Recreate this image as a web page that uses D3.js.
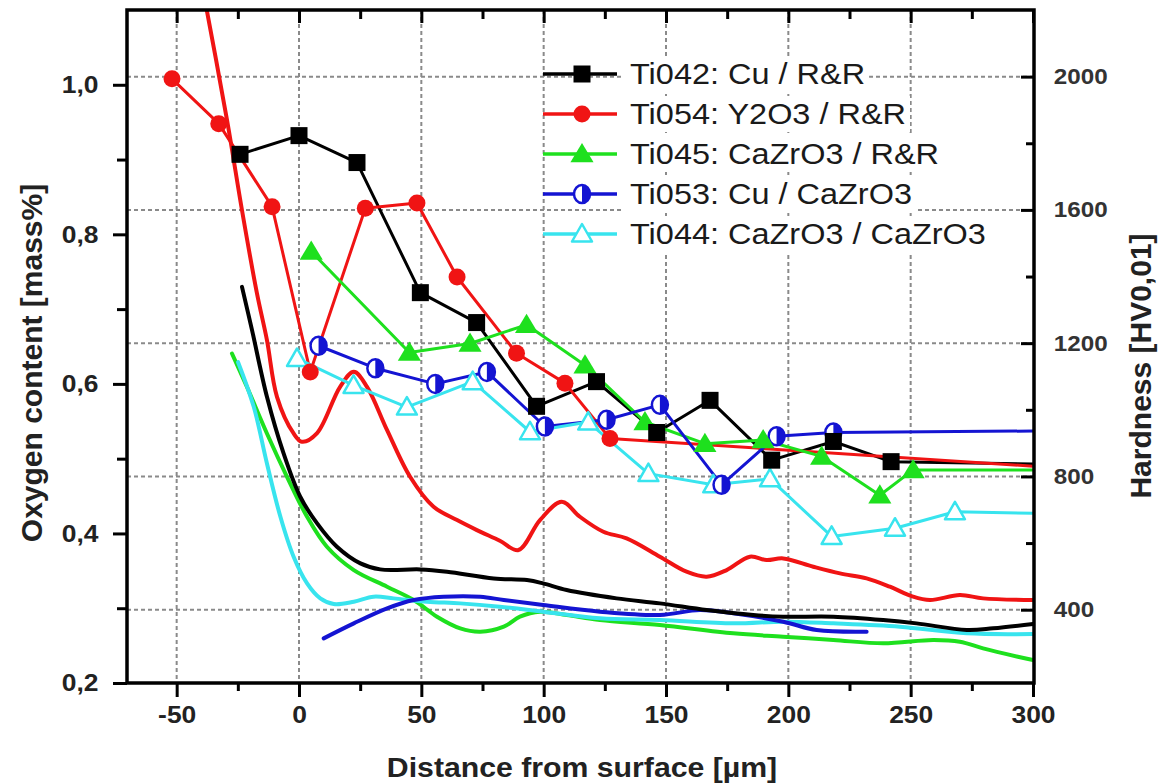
<!DOCTYPE html>
<html>
<head>
<meta charset="utf-8">
<script src="https://cdn.jsdelivr.net/npm/d3@7"></script>
<style>
  html, body { margin: 0; padding: 0; background: #fff; }
  svg { display: block; font-family: "Liberation Sans", Arial, sans-serif; }
</style>
</head>
<body>
<svg id="chart" width="1162" height="783"></svg>
<script>
// ---------------- DATA ----------------
const distanceTicks = [-50, 0, 50, 100, 150, 200, 250, 300];
const distanceMinorTicks = [-25, 25, 75, 125, 175, 225, 275];
const oxygenTicks = [0.2, 0.4, 0.6, 0.8, 1.0];
const oxygenMinorTicks = [0.3, 0.5, 0.7, 0.9];
const hardnessTicks = [400, 800, 1200, 1600, 2000];
const hardnessMinorTicks = [600, 1000, 1400, 1800];

const seriesNames = ["Ti042: Cu / R&R", "Ti054: Y2O3 / R&R", "Ti045: CaZrO3 / R&R", "Ti053: Cu / CaZrO3", "Ti044: CaZrO3 / CaZrO3"];
const seriesColors = ["#000000", "#f01414", "#1ee01e", "#1414d2", "#38e4ee"];

// Oxygen content [mass%] (left axis), measured points [distance, value]
const ti042Oxygen = [[-24.1,0.907],[0,0.932],[23.7,0.896],[49.6,0.722],[72.6,0.682],[97.1,0.570],[121.6,0.603],[146.2,0.535],[168,0.578],[193.2,0.498],[218.4,0.523],[242,0.496]];
const ti054Oxygen = [[-51.9,1.008],[-32.8,0.948],[-11.0,0.837],[4.6,0.616],[27.1,0.835],[48.2,0.842],[64.6,0.743],[88.9,0.641],[108.7,0.601],[127.1,0.527]];
const ti045Oxygen = [[5.0,0.777],[45.1,0.642],[69.9,0.654],[93,0.679],[116.9,0.625],[141.4,0.549],[165.9,0.520],[189.7,0.525],[213.6,0.503],[237.4,0.451],[251,0.485]];
const ti053Oxygen = [[8.0,0.651],[31.2,0.621],[55.7,0.600],[76.8,0.616],[100.5,0.543],[125.7,0.552],[147.5,0.572],[172.7,0.465],[195.2,0.530],[218.4,0.535]];
const ti044Oxygen = [[-0.8,0.634],[22.3,0.598],[44.1,0.569],[71,0.603],[94.4,0.536],[118.2,0.549],[142.8,0.480],[169.3,0.465],[192.5,0.473],[217.7,0.396],[243.6,0.407],[268.1,0.429]];
// bulk level continuation lines (no marker)
const ti042Tail = [[300,0.493]];
const ti054Tail = [[300,0.490]];
const ti045Tail = [[300,0.485]];
const ti053Tail = [[300,0.537]];
const ti044Tail = [[300,0.427]];

// Hardness [HV0,01] (right axis) profiles [distance, value]
const ti042Hardness = [[-23.3,1369],[-19.2,1239],[-13.1,1039],[-6.3,869],[0.5,739],[7.4,659],[15.5,589],[25.1,539],[33.2,521],[49.6,521],[60.5,514],[79.6,494],[93.2,489],[99.8,479],[109.4,459],[129.8,434],[147.5,419],[166.6,399],[185.7,384],[197.9,379],[218.4,379],[238.8,369],[252.4,359],[272.9,339],[283.7,344],[300,357]];
const ti054Hardness = [[-40,2290],[-29.4,1869],[-23.3,1599],[-17.2,1350],[-13.1,1209],[-9.0,1039],[-2.2,929],[1.2,904],[7.4,930],[16.8,1069],[22.4,1114],[27.8,1069],[36.0,939],[45.4,799],[55.0,709],[64.6,669],[72.7,639],[82.1,607],[89.7,579],[98.5,669],[107.4,724],[114.8,679],[124.4,634],[133.9,614],[147.5,559],[158.4,514],[166.6,499],[174.8,519],[184.3,559],[191.1,549],[197.9,554],[210.2,529],[221.1,509],[232,494],[241.5,469],[251,439],[257.9,429],[270.1,444],[279.6,434],[300,429]];
const ti045Hardness = [[-27.4,1169],[-21.3,1069],[-13.1,929],[-4.9,799],[3.3,679],[11.4,589],[22.4,519],[36,469],[46.9,429],[56.4,379],[65.9,344],[74.1,334],[83.7,349],[90.3,379],[98.5,394],[109.4,384],[123,369],[147.5,354],[177.5,329],[197.9,319],[218.4,309],[238.8,299],[259.2,309],[270.1,304],[279.6,284],[293.8,259],[300,249]];
const ti053Hardness = [[10.1,314],[22.4,359],[36,404],[46.9,429],[59.1,439],[74.1,439],[83.7,429],[99.8,414],[123,394],[147.5,384],[163.9,399],[177.5,389],[197.9,364],[211.6,339],[232,334]];
const ti044Hardness = [[-24.9,1143],[-18.5,1009],[-13.1,839],[-7.6,679],[-2.2,559],[3.3,479],[8.7,434],[14.2,417],[22.4,424],[30.5,439],[38.7,434],[52.3,424],[65.9,419],[82.1,409],[99.8,394],[123,374],[147.5,369],[177.5,359],[197.9,364],[218.4,359],[245.6,349],[272.9,329],[300,327]];

// ---------------- LAYOUT ----------------
const L = 127, R = 1034, T = 10, B = 683;
const svg = d3.select("#chart");

const x = d3.scaleLinear().domain([-70.3, 300]).range([L, R - 1]);
const yL = d3.scaleLinear().domain([0.2, 1.1]).range([B, T]);
const yR = d3.scaleLinear().domain([180, 2200]).range([B, T]);

// gridlines
const grid = svg.append("g").attr("stroke", "#8a8a8a").attr("stroke-width", 2).attr("stroke-dasharray", "4,3");
grid.selectAll("line.v").data(distanceTicks.filter(d => d < 300)).join("line")
  .attr("x1", d => x(d)).attr("x2", d => x(d)).attr("y1", T).attr("y2", B);
grid.selectAll("line.h").data(hardnessTicks).join("line")
  .attr("x1", L).attr("x2", R).attr("y1", d => yR(d)).attr("y2", d => yR(d));

// clip
svg.append("clipPath").attr("id", "plotclip").append("rect")
  .attr("x", L).attr("y", T).attr("width", R - L).attr("height", B - T);
const plot = svg.append("g").attr("clip-path", "url(#plotclip)");

// hardness smooth lines
const hardLine = d3.line().x(d => x(d[0])).y(d => yR(d[1])).curve(d3.curveCatmullRom.alpha(0.5));
const hardSets = [ti042Hardness, ti054Hardness, ti045Hardness, ti053Hardness, ti044Hardness];
[2, 4, 3, 0, 1].forEach(i => {
  plot.append("path").attr("d", hardLine(hardSets[i])).attr("fill", "none")
    .attr("stroke", seriesColors[i]).attr("stroke-width", 4).attr("stroke-linejoin", "round").attr("stroke-linecap", "round");
});

// oxygen marker lines
const oxLine = d3.line().x(d => x(d[0])).y(d => yL(d[1]));
const oxSets = [ti042Oxygen, ti054Oxygen, ti045Oxygen, ti053Oxygen, ti044Oxygen];
const tails = [ti042Tail, ti054Tail, ti045Tail, ti053Tail, ti044Tail];

function drawMarker(g, type, color, cx, cy) {
  if (type === 0) {
    g.append("rect").attr("x", cx - 8.5).attr("y", cy - 8.5).attr("width", 17).attr("height", 17).attr("fill", color);
  } else if (type === 1) {
    g.append("circle").attr("cx", cx).attr("cy", cy).attr("r", 8.5).attr("fill", color);
  } else if (type === 2) {
    const s = 11;
    g.append("path").attr("d", `M${cx},${cy - s} L${cx + s * 1.05},${cy + s * 0.75} L${cx - s * 1.05},${cy + s * 0.75} Z`).attr("fill", color);
  } else if (type === 3) {
    g.append("ellipse").attr("cx", cx).attr("cy", cy).attr("rx", 8).attr("ry", 9).attr("fill", "#fff").attr("stroke", color).attr("stroke-width", 2.5);
    g.append("path").attr("d", `M${cx},${cy - 9} A8 9 0 0 1 ${cx},${cy + 9} Z`).attr("fill", color);
  } else {
    const s = 10;
    g.append("path").attr("d", `M${cx},${cy - s} L${cx + s * 1.0},${cy + s * 0.75} L${cx - s * 1.0},${cy + s * 0.75} Z`)
      .attr("fill", "#fff").attr("stroke", color).attr("stroke-width", 2.5).attr("stroke-linejoin", "round");
  }
}

[0, 1, 2, 3, 4].forEach(i => {
  const pts = oxSets[i].concat(tails[i]);
  plot.append("path").attr("d", oxLine(pts)).attr("fill", "none")
    .attr("stroke", seriesColors[i]).attr("stroke-width", 3).attr("stroke-linejoin", "round");
});
[4, 3, 2, 1, 0].forEach(i => {
  const g = plot.append("g");
  oxSets[i].forEach(d => drawMarker(g, i, seriesColors[i], x(d[0]), yL(d[1])));
});

// ---------------- AXES ----------------
const SX = 1.1;
function styleAxis(g) {
  g.select(".domain").remove();
  g.selectAll(".tick line").attr("stroke", "#000").attr("stroke-width", 3);
}
// bottom
const gB = svg.append("g").attr("transform", `translate(0,${B})`)
  .call(d3.axisBottom(x).tickValues(distanceTicks).tickSize(14).tickPadding(9).tickFormat(d => String(d)));
styleAxis(gB);
gB.selectAll("text").attr("font-size", 24).attr("font-weight", "bold").attr("fill", "#222")
  .attr("font-family", "Liberation Sans, Arial, sans-serif").attr("transform", `scale(${SX},1)`);
const gBm = svg.append("g").attr("transform", `translate(0,${B})`)
  .call(d3.axisBottom(x).tickValues(distanceMinorTicks).tickSize(8).tickFormat(""));
styleAxis(gBm);
// top (inward)
const gT = svg.append("g").attr("transform", `translate(0,${T})`)
  .call(d3.axisTop(x).tickValues(distanceTicks).tickSize(-13).tickFormat(""));
styleAxis(gT);
const gTm = svg.append("g").attr("transform", `translate(0,${T})`)
  .call(d3.axisTop(x).tickValues(distanceMinorTicks).tickSize(-9).tickFormat(""));
styleAxis(gTm);
// left
const gL = svg.append("g").attr("transform", `translate(${L},0)`)
  .call(d3.axisLeft(yL).tickValues(oxygenTicks).tickSize(14).tickPadding(12).tickFormat(d => d.toFixed(1).replace(".", ",")));
styleAxis(gL);
gL.selectAll("text").attr("font-size", 24).attr("font-weight", "bold").attr("fill", "#222")
  .attr("font-family", "Liberation Sans, Arial, sans-serif").attr("transform", `scale(${SX},1)`);
const gLm = svg.append("g").attr("transform", `translate(${L},0)`)
  .call(d3.axisLeft(yL).tickValues(oxygenMinorTicks).tickSize(10).tickFormat(""));
styleAxis(gLm);
// right (inward)
const gR = svg.append("g").attr("transform", `translate(${R},0)`)
  .call(d3.axisRight(yR).tickValues(hardnessTicks).tickSize(-13).tickPadding(18).tickFormat(d => String(d)));
styleAxis(gR);
gR.selectAll("text").attr("font-size", 22).attr("font-weight", "bold").attr("fill", "#333")
  .attr("font-family", "Liberation Sans, Arial, sans-serif").attr("transform", `scale(${SX},1)`);
const gRm = svg.append("g").attr("transform", `translate(${R},0)`)
  .call(d3.axisRight(yR).tickValues(hardnessMinorTicks).tickSize(-8).tickFormat(""));
styleAxis(gRm);

// frame
svg.append("rect").attr("x", L).attr("y", T).attr("width", R - L).attr("height", B - T)
  .attr("fill", "none").attr("stroke", "#000").attr("stroke-width", 3.5);

// axis titles
svg.append("text").attr("transform", `translate(582,777) scale(1.08,1)`).attr("text-anchor", "middle")
  .attr("font-size", 28).attr("font-weight", "bold").attr("fill", "#222").text("Distance from surface [µm]");
svg.append("text").attr("transform", `translate(42,363) rotate(-90)`).attr("text-anchor", "middle")
  .attr("font-size", 30).attr("font-weight", "bold").attr("fill", "#222").text("Oxygen content [mass%]");
svg.append("text").attr("transform", `translate(1151,366) rotate(-90)`).attr("text-anchor", "middle")
  .attr("font-size", 30).attr("font-weight", "bold").attr("fill", "#222").text("Hardness [HV0,01]");

// ---------------- LEGEND ----------------
const LSX = 1.12;
const leg = svg.append("g");
seriesNames.forEach((name, i) => {
  const cy = 74 + i * 40;
  const row = leg.append("g");
  const t = row.append("text").attr("transform", `translate(630,${cy}) scale(${LSX},1)`).attr("dy", "0.36em")
    .attr("font-size", 29).attr("fill", "#1a1a1a").text(name);
  const w = t.node().getComputedTextLength() * LSX;
  row.insert("rect", "text").attr("x", 624).attr("y", cy - 18).attr("width", w + 10).attr("height", 36).attr("fill", "#fff");
  row.append("line").attr("x1", 543).attr("x2", 617).attr("y1", cy).attr("y2", cy)
    .attr("stroke", seriesColors[i]).attr("stroke-width", 3.5);
  drawMarker(row, i, seriesColors[i], 582, cy);
});
</script>
</body>
</html>
